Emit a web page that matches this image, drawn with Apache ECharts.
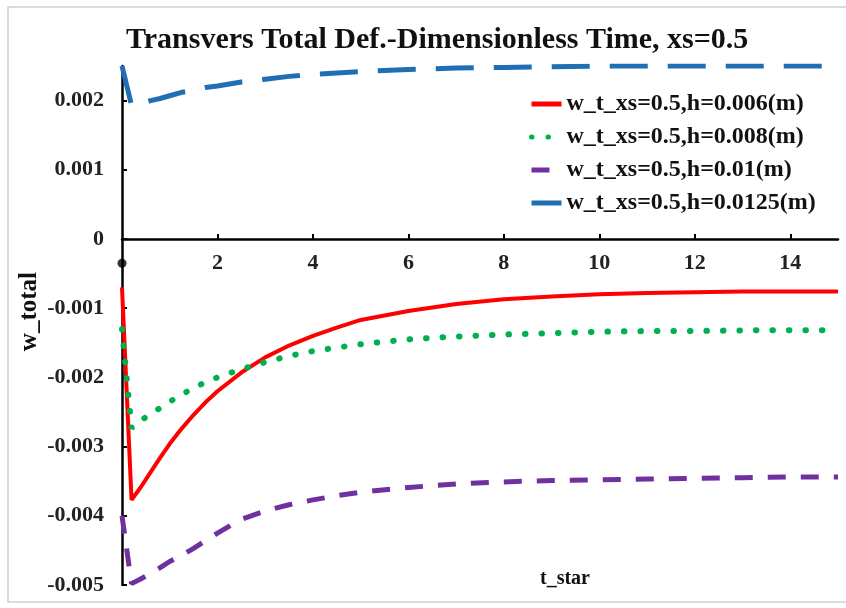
<!DOCTYPE html>
<html>
<head>
<meta charset="utf-8">
<script src="https://cdn.jsdelivr.net/npm/echarts@6/dist/echarts.min.js"></script>
<style>
  html, body { margin: 0; padding: 0; background: #fff; }
  #chart { width: 846px; height: 608px; }
</style>
</head>
<body>
<div id="chart"></div>
<script>
// Dimensionless time samples
const tStar = [0, 0.2, 0.4, 0.6, 0.8, 1, 1.25, 1.5, 1.75, 2, 2.5, 3, 3.5, 4, 4.5, 5, 6, 7, 8, 9, 10, 11, 12, 13, 14, 15];

// Total transverse deflection at xs = 0.5 for each thickness h
const wH006 = [-0.0007, -0.00377, -0.00358, -0.00337, -0.00316, -0.00296, -0.00274, -0.00254, -0.00236, -0.0022, -0.00193, -0.00171, -0.00154, -0.0014, -0.00128, -0.00117, -0.00104, -0.00094, -0.00087, -0.00083, -0.0008, -0.00078, -0.00077, -0.00076, -0.00076, -0.00076];
const wH008 = [-0.0013, -0.00273, -0.00262, -0.00253, -0.00244, -0.00235, -0.00225, -0.00215, -0.00207, -0.002, -0.00188, -0.00178, -0.00169, -0.00162, -0.00157, -0.00152, -0.00145, -0.00141, -0.00138, -0.00136, -0.00134, -0.00133, -0.00133, -0.00132, -0.00132, -0.00132];
const wH010 = [-0.004, -0.00498, -0.00491, -0.00483, -0.00475, -0.00466, -0.00457, -0.00447, -0.00436, -0.00425, -0.00405, -0.00393, -0.00384, -0.00377, -0.00371, -0.00366, -0.00359, -0.00354, -0.00351, -0.00349, -0.00348, -0.00347, -0.00346, -0.00345, -0.00344, -0.00344];
const wH0125 = [0.0025, 0.00193, 0.00196, 0.002, 0.00203, 0.00207, 0.00212, 0.00215, 0.00219, 0.00221, 0.00227, 0.00231, 0.00235, 0.00238, 0.0024, 0.00242, 0.00245, 0.00247, 0.00248, 0.00249, 0.0025, 0.0025, 0.0025, 0.0025, 0.0025, 0.0025];

const seriesNames = [
  'w_t_xs=0.5,h=0.006(m)',
  'w_t_xs=0.5,h=0.008(m)',
  'w_t_xs=0.5,h=0.01(m)',
  'w_t_xs=0.5,h=0.0125(m)'
];

// Marker drawn on the vertical axis just under the origin
const originMark = [[0, -0.00035]];

const xTicks = [2, 4, 6, 8, 10, 12, 14];
const yTicks = [-0.005, -0.004, -0.003, -0.002, -0.001, 0, 0.001, 0.002];

const X_MIN = 0, X_MAX = 15;
const Y_MIN = -0.005, Y_MAX = 0.0025;

const pairs = (ys) => tStar.map((t, i) => [t, ys[i]]);
const serif = '"Liberation Serif", "Times New Roman", serif';

// Plot box
const GRID = { left: 122, right: 8, top: 66, bottom: 23 };
const plotHeight = 608 - GRID.top - GRID.bottom;
// Shift the horizontal axis (line, ticks, labels) up to the y = 0 level
const xAxisOffset = -plotHeight * (0 - Y_MIN) / (Y_MAX - Y_MIN);

const chart = echarts.init(document.getElementById('chart'), null, { renderer: 'canvas' });

chart.setOption({
  animation: false,
  backgroundColor: '#ffffff',
  title: {
    text: 'Transvers Total Def.-Dimensionless Time, xs=0.5',
    left: 121,
    top: 20,
    textStyle: { fontFamily: serif, fontWeight: 'bold', fontSize: 30, color: '#111' }
  },
  legend: {
    orient: 'vertical',
    left: 529,
    top: 92,
    padding: 0,
    itemWidth: 30,
    itemHeight: 14,
    itemGap: 9,
    itemStyle: { opacity: 0 },
    lineStyle: { width: 5 },
    textStyle: { fontFamily: serif, fontWeight: 'bold', fontSize: 24, color: '#111' },
    data: seriesNames
  },
  grid: Object.assign({ containLabel: false, outerBoundsMode: 'none' }, GRID),
  xAxis: {
    type: 'value',
    min: X_MIN,
    max: X_MAX,
    position: 'bottom',
    offset: xAxisOffset,
    axisLine: { onZero: false, lineStyle: { color: '#000', width: 2.5 } },
    axisTick: { inside: true, length: 5, customValues: xTicks, lineStyle: { color: '#000', width: 2 } },
    axisLabel: {
      customValues: xTicks,
      margin: 13,
      fontFamily: serif, fontWeight: 'bold', fontSize: 22, color: '#222'
    },
    splitLine: { show: false }
  },
  yAxis: {
    type: 'value',
    min: Y_MIN,
    max: Y_MAX,
    axisLine: { onZero: false, lineStyle: { color: '#000', width: 2.5 } },
    axisTick: { inside: true, length: 5, customValues: yTicks, lineStyle: { color: '#000', width: 2 } },
    axisLabel: {
      customValues: yTicks,
      margin: 18,
      formatter: (v) => String(+v.toFixed(3)),
      fontFamily: serif, fontWeight: 'bold', fontSize: 22, color: '#222'
    },
    splitLine: { show: false }
  },
  graphic: [
    {
      type: 'rect',
      shape: { x: 8, y: 7, width: 850, height: 595 },
      style: { fill: 'none', stroke: '#cfcfcf', lineWidth: 1.5 },
      silent: true, z: -10
    },
    {
      type: 'text',
      left: 17, top: 272,
      rotation: Math.PI / 2,
      style: { text: 'w_total', fontFamily: serif, fontWeight: 'bold', fontSize: 25, fill: '#111' }
    },
    {
      type: 'text',
      left: 540, top: 569,
      style: { text: 't_star', fontFamily: serif, fontWeight: 'bold', fontSize: 20, fill: '#111' }
    }
  ],
  series: [
    {
      name: seriesNames[0], type: 'line', data: pairs(wH006),
      symbol: 'none', smooth: false,
      itemStyle: { color: '#ff0000' },
      lineStyle: { color: '#ff0000', width: 4 }
    },
    {
      name: seriesNames[1], type: 'line', data: pairs(wH008),
      symbol: 'none', smooth: false,
      itemStyle: { color: '#00b050' },
      lineStyle: { color: '#00b050', width: 6, type: [0.5, 16], cap: 'round' }
    },
    {
      name: seriesNames[2], type: 'line', data: pairs(wH010),
      symbol: 'none', smooth: false,
      itemStyle: { color: '#7030a0' },
      lineStyle: { color: '#7030a0', width: 5, type: [18, 15] }
    },
    {
      name: seriesNames[3], type: 'line', data: pairs(wH0125),
      symbol: 'none', smooth: false,
      itemStyle: { color: '#1f6fb5' },
      lineStyle: { color: '#1f6fb5', width: 5, type: [38, 20] }
    },
    {
      type: 'scatter', data: originMark, symbolSize: 9,
      itemStyle: { color: '#000' }, z: 5, silent: true
    }
  ]
});
</script>
</body>
</html>
